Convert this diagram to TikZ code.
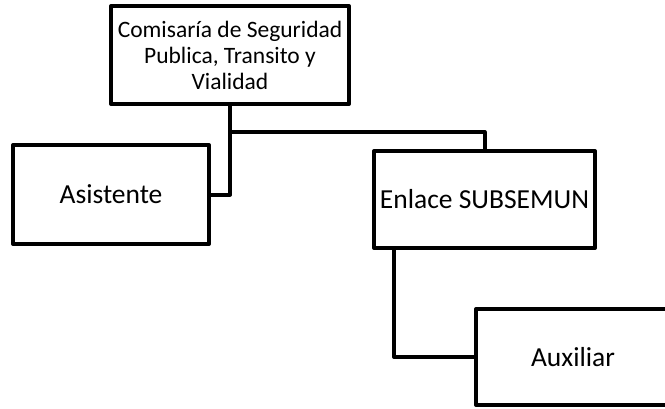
\documentclass[tikz,border=0pt]{standalone}
\usepackage{fontspec}
\setmainfont{Carlito}
\usepackage{tikz}
\usetikzlibrary{positioning}
\tikzset{linea/.style={line width=4pt,line join=round}}

\begin{document}
\begin{tikzpicture}[x=1pt,y=-1pt,
    caja/.style={draw,linea,inner sep=0pt,align=center,font=\fontsize{27.5}{33}\selectfont}]
            \useasboundingbox (0,0) rectangle (665,408);
            \node[caja,minimum width=238pt,minimum height=98pt,font=\fontsize{23.5}{26}\selectfont] (comisaria) at (230,55) {Comisaría de Seguridad\\Publica, Transito y\\Vialidad};
            \node[caja,minimum width=196pt,minimum height=99pt] (asistente) at (111,194.5) {Asistente};
            \node[caja,minimum width=221pt,minimum height=97pt] (enlace) at (484.5,199.5) {Enlace SUBSEMUN};
            \node[caja,minimum width=206pt,minimum height=96pt] (auxiliar) at (579,357) {\hspace*{-12pt}Auxiliar};
            \path (comisaria.south) ++(0,26) coordinate (ramal);
            \path (enlace.south west) ++(22,0) coordinate (bajada);
            \draw[linea] (comisaria.south) |- (asistente.east);
            \draw[linea] (ramal) -| (enlace.north);
            \draw[linea] (bajada) |- (auxiliar.west);
        \end{tikzpicture}
\end{document}
